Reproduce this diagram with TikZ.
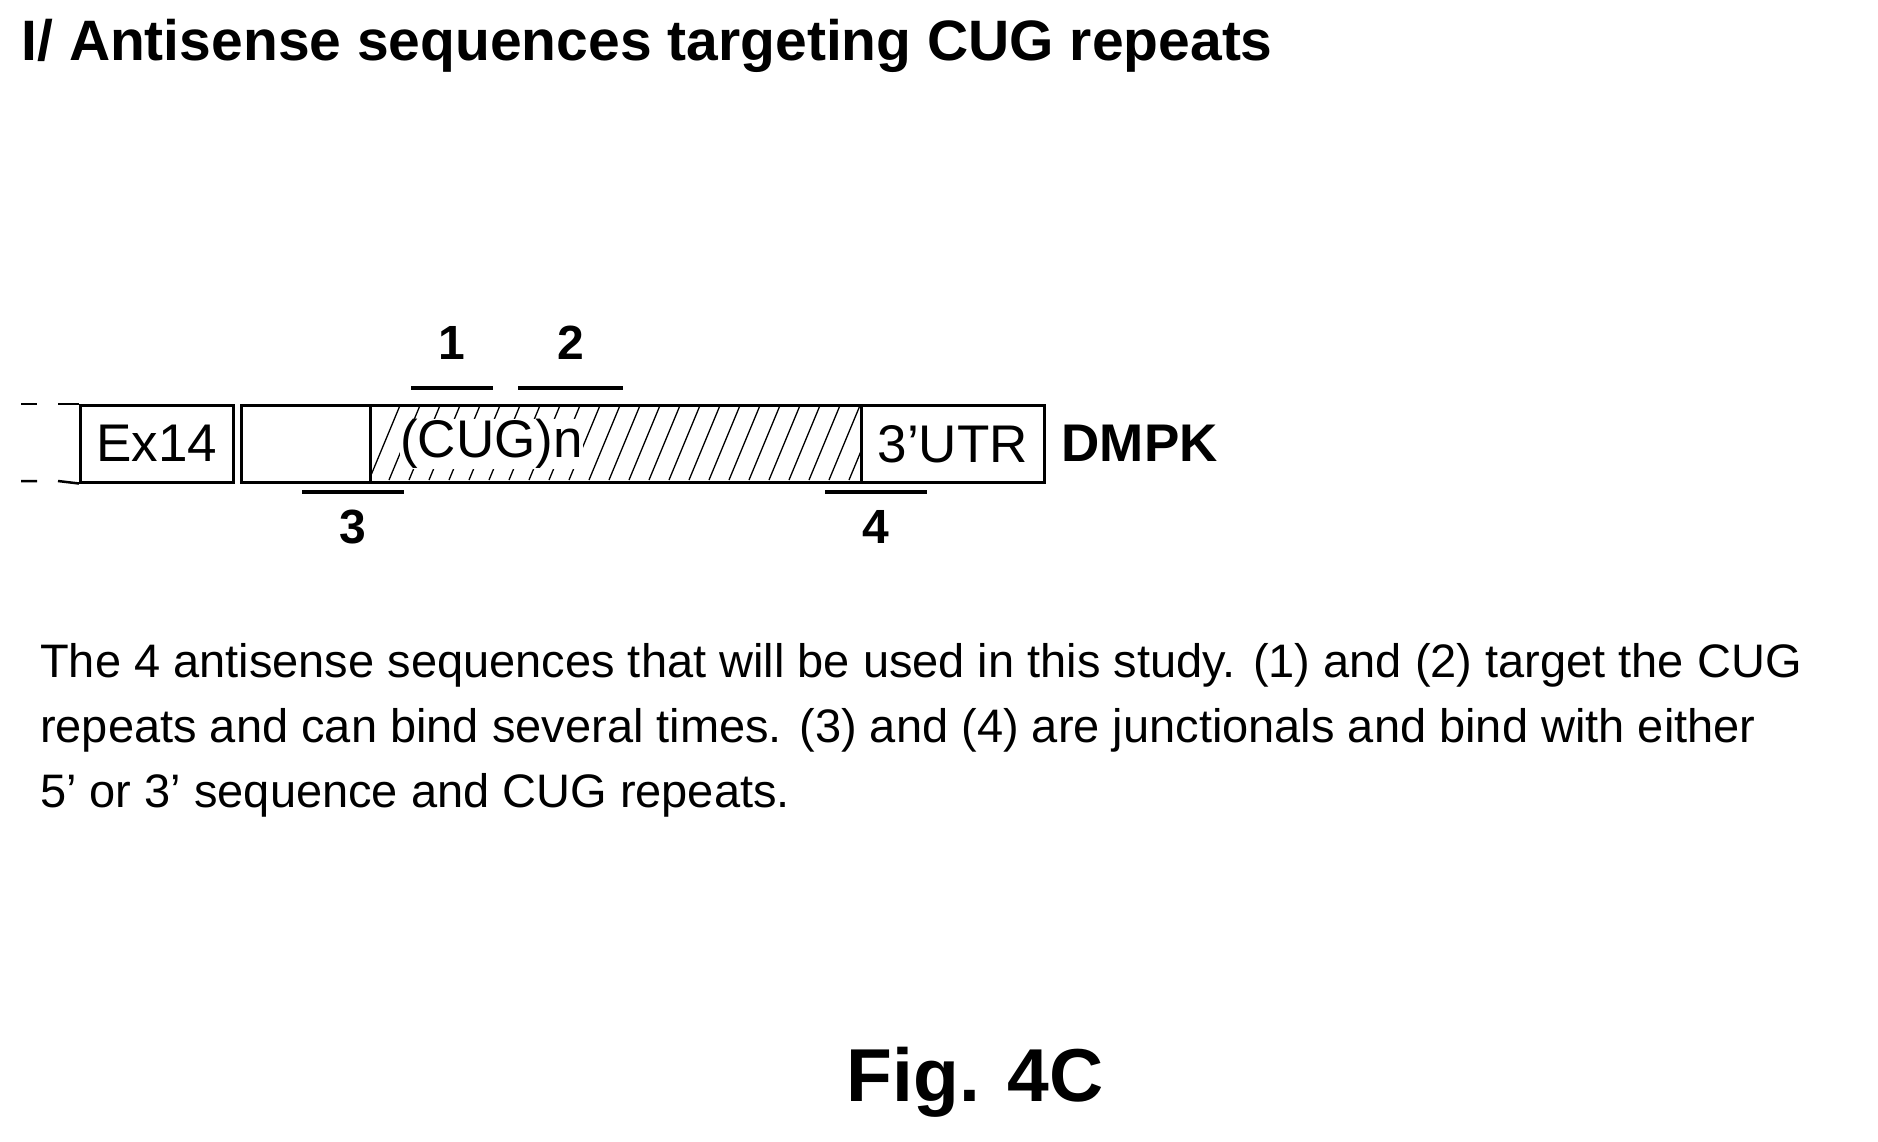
\documentclass[tikz,border=0pt]{standalone}
\usepackage{fontspec}
\setmainfont{Liberation Sans}
\usetikzlibrary{positioning}

\tikzset{
  segbox/.style={draw, line width=2.5pt, minimum height=77pt, inner sep=0pt, anchor=north west},
  asobar/.style={line width=4pt},
  asolabel/.style={font=\fontsize{48}{48}\selectfont\bfseries, inner sep=0pt},
}

\begin{document}
\begin{tikzpicture}[x=1pt, y=-1pt]
  \useasboundingbox (0,0) rectangle (1878,1141);

  \node[anchor=west, font=\fontsize{57}{57}\selectfont\bfseries] (title) at (18,46) {I/ Antisense sequences targeting CUG repeats};

  % gene segments
  \node[segbox, minimum width=153pt] (ex14) at (79,404) {};
  \node[font=\fontsize{53}{53}\selectfont] at (ex14.center) {Ex14};
  \node[segbox, minimum width=129pt] (intr) at (240,404) {};
  \node[segbox, minimum width=491pt] (cug) at (369,404) {};
  \node[segbox, minimum width=183pt] (utr) at (860,404) {};
  \node[font=\fontsize{53}{53}\selectfont] at (utr.center) {3'UTR};

  % hatching
  \begin{scope}
    \clip (cug.north west) rectangle (cug.south east);
    \foreach \h in {0,20,...,560} {
      \draw[line width=1.3pt] (369+\h,480) -- ++(32,-77);
    };
  \end{scope}
  \node[anchor=west, fill=white, inner sep=0pt, font=\fontsize{53}{53}\selectfont] (cugn) at (400,444) {(CUG)n};

  \node[right=16pt of utr, font=\fontsize{53}{53}\selectfont\bfseries, inner sep=0pt] (dmpk) {DMPK};

  % dashed ends
  \draw[line width=2.5pt] (21,404) -- (37,404) (58,404) -- (ex14.north west);
  \draw[line width=2.5pt] (21,481) -- (37,481) (58,481) -- (ex14.south west);

  % antisense sequences
  \coordinate (a1l) at (411,388); \coordinate (a1r) at (493,388);
  \coordinate (a2l) at (518,388); \coordinate (a2r) at (623,388);
  \coordinate (a3l) at (302,492); \coordinate (a3r) at (404,492);
  \coordinate (a4l) at (825,492); \coordinate (a4r) at (927,492);
  \draw[asobar] (a1l) -- (a1r) node[midway, above=27pt, asolabel] (lab1) {1};
  \draw[asobar] (a2l) -- (a2r) node[midway, above=27pt, asolabel] (lab2) {2};
  \draw[asobar] (a3l) -- (a3r) node[midway, below=16pt, asolabel] (lab3) {3};
  \draw[asobar] (a4l) -- (a4r) node[midway, below=16pt, asolabel] (lab4) {4};

  \node[anchor=north west, align=left, inner sep=0pt, font=\fontsize{47}{65}\selectfont] (caption) at (40,643)
    {The 4 antisense sequences that will be used in this study. (1) and (2) target the CUG\\
     repeats and can bind several times. (3) and (4) are junctionals and bind with either\\
     5' or 3' sequence and CUG repeats.};

  \node[font=\fontsize{75}{75}\selectfont\bfseries] (fig) at (975,1082) {Fig. 4C};
\end{tikzpicture}
\end{document}
